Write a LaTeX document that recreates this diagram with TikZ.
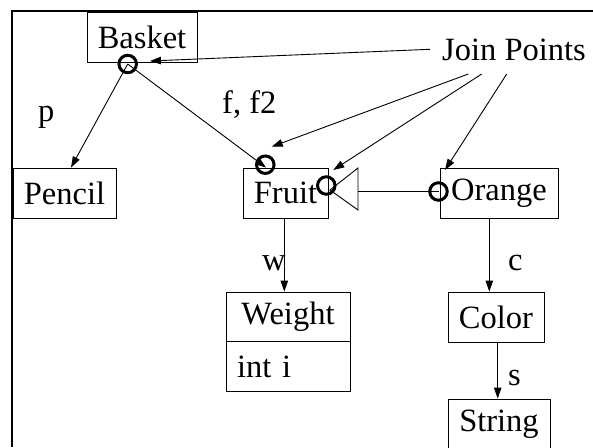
\documentclass[tikz,border=0pt]{standalone}
\usepackage{fontspec}
\setmainfont{Liberation Serif}
\usetikzlibrary{arrows.meta,calc}
\begin{document}
\begin{tikzpicture}[x=1pt,y=-1pt,
  font=\fontsize{32.5}{38}\selectfont,
  box/.style={draw,line width=0.9pt,inner sep=0pt,minimum height=50pt},
  jpc/.style={draw,circle,line width=3pt,minimum size=17.5pt,inner sep=0pt},
  arr/.style={line width=0.9pt,-{Triangle[length=11pt,width=7.5pt]}},
  lab/.style={anchor=base west,inner sep=0pt}]
\useasboundingbox (0,0) rectangle (593,447);
% frame
\draw[line width=2pt] (12,447) -- (12,11) -- (593,11);
% boxes
\node[box,minimum width=110pt] (basket) at (142,37) {Basket};
\node[box,minimum width=103pt] (pencil) at (64.5,193) {Pencil};
\node[box,minimum width=85pt] (fruit) at (285.5,193) {Fruit};
\node[box,minimum width=118pt] (orange) at (499,193) {Orange};
\node[box,minimum width=124pt,minimum height=49pt] (wtop) at (288,316.5) {Weight};
\node[box,minimum width=124pt,text width=102pt,inner xsep=11pt,align=left,anchor=north] (wbot) at (wtop.south) {int i};
\node[box,minimum width=96pt] (color) at (496,317) {Color};
\node[box,minimum width=102pt] (string) at (499,424) {String};
% join point circles
\node[jpc] (bc) at (127.7,64) {};
\node[jpc] (fc1) at (265.3,164.7) {};
\node[jpc] (fc2) at (326.3,185.5) {};
\node[jpc] (oc) at (438.5,191.5) {};
% inheritance triangle
\draw[line width=0.9pt] (330,190) coordinate (tri) -- (358,168) -- (358,210) -- cycle;
\coordinate (tribase) at (358,191.5);
\draw[line width=0.9pt] (tribase) -- (oc.center);
% associations
\draw[arr] (bc.center) -- ($(pencil.north)+(6.5,0)$);
\draw[arr] (bc.center) -- ($(fruit.north)+(-19.5,0)$);
\draw[arr] ($(fruit.south)+(-1.2,0)$) coordinate (fw) -- (fw |- wtop.north);
\draw[arr] ($(orange.south)+(-9.7,0)$) coordinate (oco) -- (oco |- color.north);
\draw[arr] ($(color.south)+(1.7,0)$) coordinate (cs) -- (cs |- string.north);
% labels
\node[lab] (lp) at (38,121) {p};
\node[lab] (lf) at (222,113) {f, f2};
\node[lab] (lw) at (262,270) {w};
\node[lab] (lc) at (508,270) {c};
\node[lab] (ls) at (508,385) {s};
% join points
\node[lab] (jp) at (442,60) {Join Points};
\coordinate (j0) at (430,49.3);
\coordinate (j1) at (468.3,74);
\coordinate (j2) at (481.7,74);
\coordinate (j3) at (506.7,74);
\coordinate (t0) at (150,61);
\coordinate (t1) at (271.7,146.7);
\coordinate (t2) at (333.3,170);
\coordinate (t3) at (445,170);
\draw[arr] (j0) -- (t0);
\draw[arr] (j1) -- (t1);
\draw[arr] (j2) -- (t2);
\draw[arr] (j3) -- (t3);
\end{tikzpicture}
\end{document}
